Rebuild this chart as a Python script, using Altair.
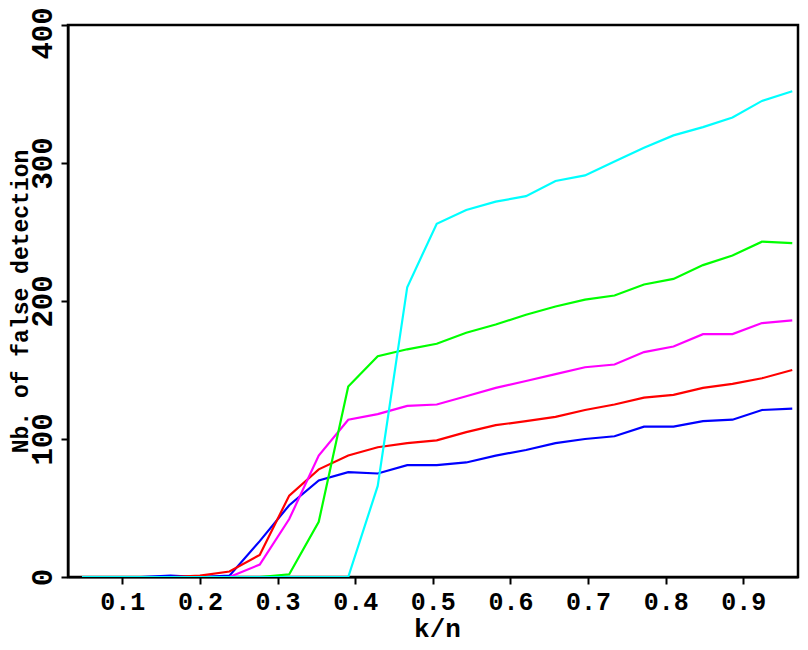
import altair as alt
import pandas as pd

x_vals = [0.048, 0.086, 0.124, 0.162, 0.200, 0.238, 0.277, 0.315, 0.353, 0.391,
          0.429, 0.467, 0.505, 0.543, 0.581, 0.620, 0.658, 0.696, 0.734, 0.772,
          0.810, 0.848, 0.886, 0.924, 0.963]

blue = [0, 0, 0, 1, 0, 1, 26, 52, 70, 76, 75, 81, 81, 83, 88, 92, 97, 100, 102, 109, 109, 113, 114, 121, 122]
red = [0, 0, 0, 0, 1, 4, 16, 59, 78, 88, 94, 97, 99, 105, 110, 113, 116, 121, 125, 130, 132, 137, 140, 144, 150]
magenta = [0, 0, 0, 0, 0, 0, 9, 42, 88, 114, 118, 124, 125, 131, 137, 142, 147, 152, 154, 163, 167, 176, 176, 184, 186]
green = [0, 0, 0, 0, 0, 0, 0, 2, 40, 138, 160, 165, 169, 177, 183, 190, 196, 201, 204, 212, 216, 226, 233, 243, 242]
cyan = [0, 0, 0, 0, 0, 0, 0, 0, 0, 0, 66, 210, 256, 266, 272, 276, 287, 291, 301, 311, 320, 326, 333, 345, 352]

names = ["blue", "red", "magenta", "green", "cyan"]
colors = ["#0000ff", "#ff0000", "#ff00ff", "#00ff00", "#00ffff"]
values = [blue, red, magenta, green, cyan]

x_ticks = [0.1, 0.2, 0.3, 0.4, 0.5, 0.6, 0.7, 0.8, 0.9]
y_ticks = [0, 100, 200, 300, 400]

rows = []
for n, vals in zip(names, values):
    for xv, yv in zip(x_vals, vals):
        rows.append({"x": xv, "y": yv, "s": n})
df = pd.DataFrame(rows)

FONT = "Liberation Mono"
W, H = 730, 552

xaxis = alt.Axis(values=x_ticks, format=".1f", title="k/n", grid=False,
                 labelFont=FONT, labelFontSize=25, labelFontWeight="bold", labelColor="black",
                 labelPadding=5, labelFlush=False,
                 titleFont=FONT, titleFontSize=26, titleFontWeight="bold", titleColor="black",
                 titleAlign="center", titleBaseline="alphabetic", titleX=369, titleY=59,
                 domainColor="black", domainWidth=2, tickColor="black", tickWidth=2, tickSize=7)
yaxis = alt.Axis(values=y_ticks, format="d", title="Nb. of false detection", grid=False,
                 labelFont=FONT, labelFontSize=29, labelFontWeight="bold", labelColor="black",
                 labelAngle=270, labelAlign="center", labelBaseline="bottom",
                 labelPadding=4, labelFlush=False,
                 labelOffset=alt.ExprRef("datum.value == 400 ? 8 : 0"),
                 titleFont=FONT, titleFontSize=23, titleFontWeight="bold", titleColor="black",
                 titleAngle=270, titleAlign="center", titleBaseline="alphabetic",
                 titleX=-41, titleY=H / 2,
                 domainColor="black", domainWidth=2, tickColor="black", tickWidth=2, tickSize=7)

chart = alt.Chart(df).mark_line(strokeWidth=2.2, clip=True).encode(
    x=alt.X("x:Q", scale=alt.Scale(domain=[0.030, 0.9704], nice=False, zero=False), axis=xaxis),
    y=alt.Y("y:Q", scale=alt.Scale(domain=[0, 400], nice=False), axis=yaxis),
    color=alt.Color("s:N", scale=alt.Scale(domain=names, range=colors), legend=None),
).properties(
    width=W, height=H,
    autosize=alt.AutoSizeParams(type="none"),
    padding={"left": 60, "top": 17, "right": 2, "bottom": 65},
).configure(background="white", view=alt.ViewConfig(stroke="black", strokeWidth=2.5))

chart.save("out.html", embed_options={"renderer": "svg", "actions": False})
